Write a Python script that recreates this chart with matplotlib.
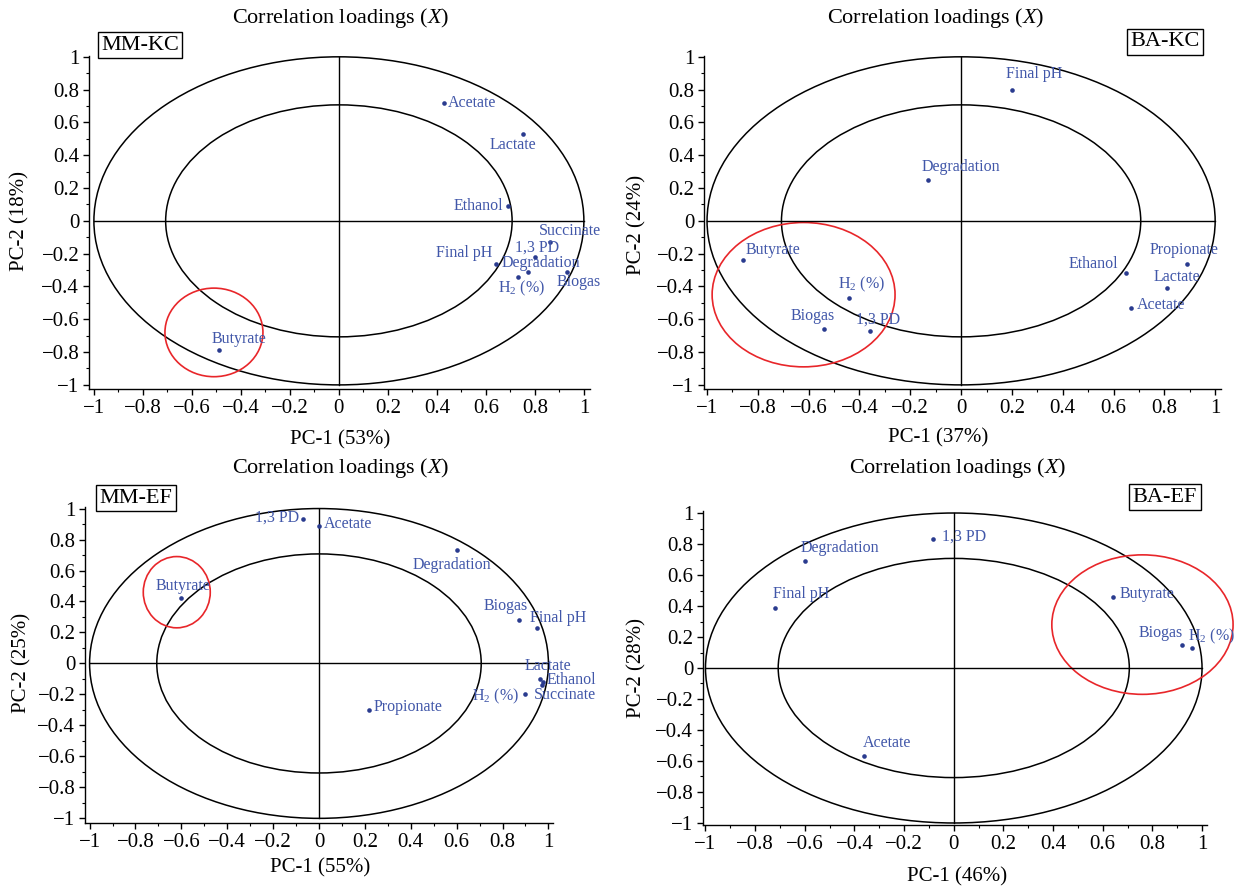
import matplotlib
matplotlib.use("Agg")
import matplotlib.pyplot as plt
from matplotlib.patches import Ellipse
from matplotlib.ticker import MultipleLocator, FuncFormatter

plt.rcParams['font.family'] = ['Liberation Serif', 'DejaVu Serif']
plt.rcParams['mathtext.fontset'] = 'custom'
plt.rcParams['mathtext.rm'] = 'Liberation Serif'
plt.rcParams['mathtext.it'] = 'Liberation Serif:italic'

W, H = 1236, 888

# ---- data: correlation loadings (PC-1, PC-2) per panel ----
mmkc_names = ['Acetate', 'Lactate', 'Ethanol', 'Succinate', '1,3 PD', 'Final pH',
              'Degradation', 'H$_2$ (%)', 'Biogas', 'Butyrate']
mmkc_pc1 = [0.43, 0.75, 0.69, 0.86, 0.80, 0.64, 0.77, 0.73, 0.93, -0.49]
mmkc_pc2 = [0.72, 0.53, 0.09, -0.13, -0.22, -0.26, -0.31, -0.34, -0.31, -0.79]

bakc_names = ['Butyrate', 'H$_2$ (%)', 'Biogas', '1,3 PD', 'Ethanol', 'Propionate',
              'Lactate', 'Acetate', 'Final pH', 'Degradation']
bakc_pc1 = [-0.86, -0.44, -0.54, -0.36, 0.65, 0.89, 0.81, 0.67, 0.20, -0.13]
bakc_pc2 = [-0.24, -0.47, -0.66, -0.67, -0.32, -0.26, -0.41, -0.53, 0.80, 0.25]

mmef_names = ['1,3 PD', 'Acetate', 'Degradation', 'Biogas', 'Final pH', 'Lactate',
              'Ethanol', 'Succinate', 'H$_2$ (%)', 'Propionate', 'Butyrate']
mmef_pc1 = [-0.07, 0.00, 0.60, 0.87, 0.95, 0.965, 0.975, 0.97, 0.90, 0.22, -0.60]
mmef_pc2 = [0.93, 0.89, 0.73, 0.28, 0.23, -0.10, -0.12, -0.14, -0.20, -0.30, 0.42]

baef_names = ['1,3 PD', 'Degradation', 'Final pH', 'Butyrate', 'Biogas', 'H$_2$ (%)', 'Acetate']
baef_pc1 = [-0.085, -0.60, -0.72, 0.64, 0.92, 0.96, -0.36]
baef_pc2 = [0.83, 0.69, 0.39, 0.46, 0.15, 0.13, -0.57]

# highlighted groups (centre x, centre y, half-width, half-height)
mmkc_circle = [-0.51, -0.68, 0.20, 0.27]
bakc_circle = [-0.62, -0.45, 0.36, 0.44]
mmef_circle = [-0.62, 0.46, 0.146, 0.23]
baef_circle = [0.76, 0.28, 0.365, 0.45]

panel_titles = ['MM-KC', 'BA-KC', 'MM-EF', 'BA-EF']
pc1_labels = ['PC-1 (53%)', 'PC-1 (37%)', 'PC-1 (55%)', 'PC-1 (46%)']
pc2_labels = ['PC-2 (18%)', 'PC-2 (24%)', 'PC-2 (25%)', 'PC-2 (28%)']

# ---- layout: label placement per point (ha, dx px, dy px) ----
mmkc_lab = [('left', 4, 0), ('center', -10, -11), ('right', -5, 0), ('left', -11, 11),
            ('left', -20, 9), ('right', -3, 11), ('left', -26, 9), ('center', 4, -12),
            ('left', -10, -10), ('left', -7, 11)]
bakc_lab = [('left', 3, 10), ('left', -11, 14), ('center', -11, 13), ('left', -14, 11),
            ('right', -8, 9), ('left', -38, 14), ('left', -13, 11), ('left', 6, 3),
            ('left', -6, 16), ('left', -6, 13)]
mmef_lab = [('right', -4, 2), ('left', 5, 2), ('center', -5, -15), ('center', -13, 14),
            ('left', -7, 10), ('left', -16, 13), ('left', 4, 2), ('left', -8, -10),
            ('right', -6, -2), ('left', 4, 3), ('left', -26, 12)]
baef_lab = [('left', 9, 3), ('left', -4, 13), ('left', -2, 14), ('left', 7, 3),
            ('right', 1, 12), ('left', -4, 11), ('left', -2, 13)]

# axes boxes in pixels: left, top, right, bottom ; limits
boxes = [(89, 56, 590, 389), (704, 56, 1221, 389), (85, 507, 553, 823), (703, 511, 1207, 825)]
xlims = [(-1.02, 1.025), (-1.012, 1.023), (-1.02, 1.02), (-1.01, 1.02)]
ylims = [(-1.025, 1.005), (-1.025, 1.005), (-1.03, 1.01), (-1.013, 1.013)]
title_pos = [(341, 18), (936, 18), (341, 468), (958, 468)]
tag_pos = [(140, 45), (1165, 42), (136, 498), (1165, 497)]
xlab_pos = [(340, 440), (938, 438), (320, 868), (957, 877)]
ylab_pos = [(20, 221), (637, 225), (22, 663), (637, 668)]

TEXT_BLUE = '#4157a9'
DOT_BLUE = '#2a3b8f'
RED = '#e8262a'


def fx(px):
    return px / W


def fy(py):
    return 1 - py / H


def tick_fmt(v, _):
    v = round(v, 2)
    if abs(v) < 1e-9:
        return '0'
    return f'{v:g}'.replace('-', '\u2212')


fig = plt.figure(figsize=(W / 100, H / 100), dpi=100)

panels = [
    (mmkc_names, mmkc_pc1, mmkc_pc2, mmkc_circle, mmkc_lab),
    (bakc_names, bakc_pc1, bakc_pc2, bakc_circle, bakc_lab),
    (mmef_names, mmef_pc1, mmef_pc2, mmef_circle, mmef_lab),
    (baef_names, baef_pc1, baef_pc2, baef_circle, baef_lab),
]

for i, (names, xs, ys, circ, labs) in enumerate(panels):
    l, t, r, b = boxes[i]
    ax = fig.add_axes([fx(l), fy(b), (r - l) / W, (b - t) / H])
    ax.set_xlim(*xlims[i])
    ax.set_ylim(*ylims[i])
    for side in ('top', 'right'):
        ax.spines[side].set_visible(False)
    for side in ('left', 'bottom'):
        ax.spines[side].set_linewidth(1.0)
    ax.xaxis.set_major_locator(MultipleLocator(0.2))
    ax.xaxis.set_minor_locator(MultipleLocator(0.1))
    ax.yaxis.set_major_locator(MultipleLocator(0.2))
    ax.yaxis.set_minor_locator(MultipleLocator(0.1))
    ax.xaxis.set_major_formatter(FuncFormatter(tick_fmt))
    ax.yaxis.set_major_formatter(FuncFormatter(tick_fmt))
    ax.tick_params(which='major', direction='out', length=4, width=1, labelsize=15, pad=3)
    ax.tick_params(which='minor', direction='out', length=2.5, width=0.8)

    # correlation circles (100% and 50% explained variance) and axes
    ax.add_patch(Ellipse((0, 0), 2, 2, fill=False, ec='black', lw=1.1))
    ax.add_patch(Ellipse((0, 0), 2 * 0.7071, 2 * 0.7071, fill=False, ec='black', lw=1.1))
    ax.plot([-1, 1], [0, 0], color='black', lw=1.0)
    ax.plot([0, 0], [-1, 1], color='black', lw=1.0)

    cx, cy, rx, ry = circ
    ax.add_patch(Ellipse((cx, cy), 2 * rx, 2 * ry, fill=False, ec=RED, lw=1.2, clip_on=False))

    ax.scatter(xs, ys, s=11, color=DOT_BLUE, zorder=3, linewidths=0)
    for name, x, y, (ha, dx, dy) in zip(names, xs, ys, labs):
        ax.annotate(name, (x, y), xytext=(dx, dy), textcoords='offset pixels',
                    ha=ha, va='center', fontsize=11.5, color=TEXT_BLUE)

    tx, ty = title_pos[i]
    fig.text(fx(tx), fy(ty), 'Correlation loadings ($X$)', ha='center', va='center', fontsize=16)
    gx, gy = tag_pos[i]
    fig.text(fx(gx), fy(gy), panel_titles[i], ha='center', va='center', fontsize=16,
             bbox=dict(boxstyle='square,pad=0.15', fc='white', ec='black', lw=1.0))
    px, py = xlab_pos[i]
    fig.text(fx(px), fy(py), pc1_labels[i], ha='center', va='center', fontsize=15)
    qx, qy = ylab_pos[i]
    fig.text(fx(qx), fy(qy), pc2_labels[i], ha='center', va='center', fontsize=15, rotation=90)

fig.savefig('out.png', dpi=100)
